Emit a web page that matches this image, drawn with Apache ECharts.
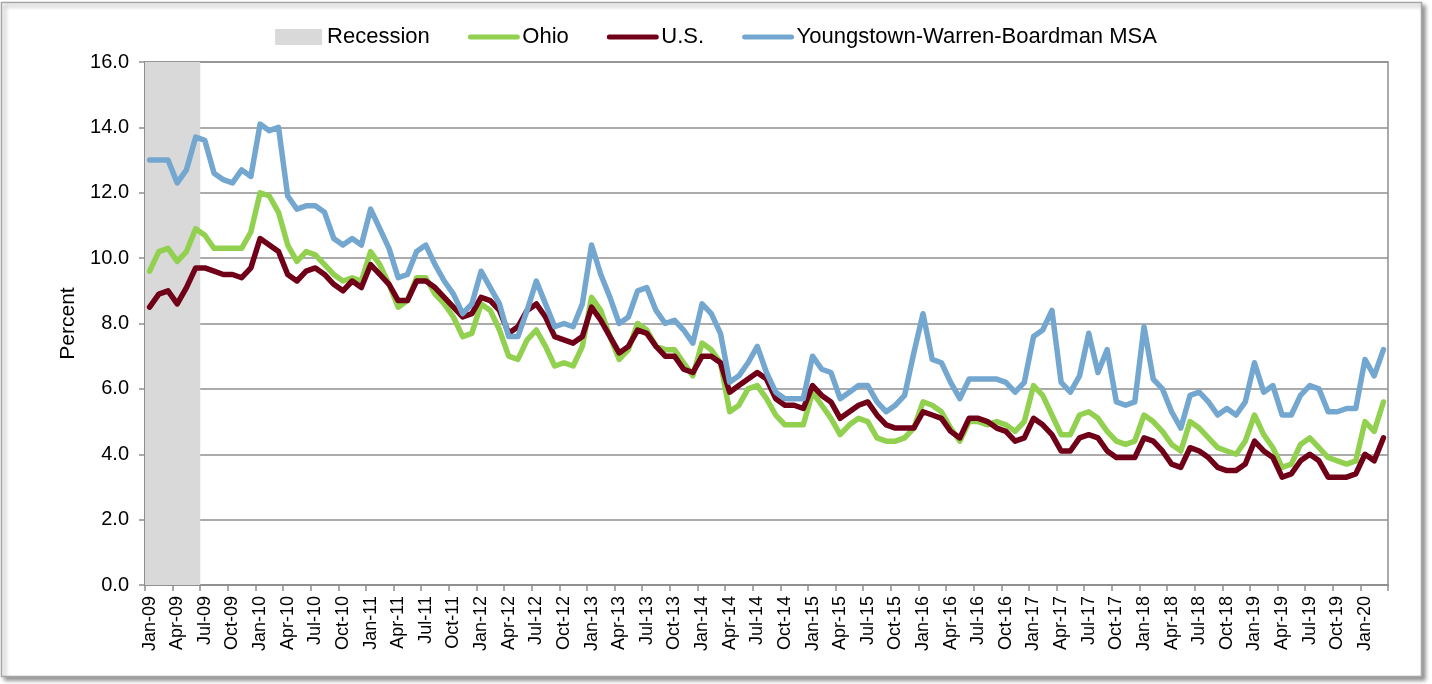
<!DOCTYPE html>
<html>
<head>
<meta charset="utf-8">
<title>Unemployment Rate: Youngstown-Warren-Boardman MSA, Ohio and U.S.</title>
<script src="https://cdn.jsdelivr.net/npm/echarts@6/dist/echarts.min.js"></script>
<style>
  html, body { margin: 0; padding: 0; background: #ffffff; }
  #chart { width: 1432px; height: 684px; }
</style>
</head>
<body>
<div id="chart"></div>
<script>
// Monthly unemployment rate (percent, not seasonally adjusted), Jan 2009 - Mar 2020
const MONTHS = ['Jan', 'Feb', 'Mar', 'Apr', 'May', 'Jun', 'Jul', 'Aug', 'Sep', 'Oct', 'Nov', 'Dec'];
const YEARS = ['09', '10', '11', '12', '13', '14', '15', '16', '17', '18', '19', '20'];
const LAST_MONTH_2020 = 3; // data runs through March 2020

// Recession shading (NBER: through June 2009), first and last shaded month
const RECESSION_SPAN = ['Jan-09', 'Jun-09'];

const OHIO = [
  9.6, 10.2, 10.3, 9.9, 10.2, 10.9, 10.7, 10.3, 10.3, 10.3, 10.3, 10.8,   // 2009
  12.0, 11.9, 11.4, 10.4, 9.9, 10.2, 10.1, 9.8, 9.5, 9.3, 9.4, 9.3,       // 2010
  10.2, 9.8, 9.2, 8.5, 8.7, 9.4, 9.4, 8.9, 8.6, 8.2, 7.6, 7.7,            // 2011
  8.6, 8.4, 7.8, 7.0, 6.9, 7.5, 7.8, 7.3, 6.7, 6.8, 6.7, 7.3,             // 2012
  8.8, 8.4, 7.6, 6.9, 7.2, 8.0, 7.8, 7.3, 7.2, 7.2, 6.8, 6.4,             // 2013
  7.4, 7.2, 6.8, 5.3, 5.5, 6.0, 6.1, 5.7, 5.2, 4.9, 4.9, 4.9,             // 2014
  5.9, 5.5, 5.1, 4.6, 4.9, 5.1, 5.0, 4.5, 4.4, 4.4, 4.5, 4.8,             // 2015
  5.6, 5.5, 5.3, 4.8, 4.4, 5.0, 5.0, 4.9, 5.0, 4.9, 4.7, 5.0,             // 2016
  6.1, 5.8, 5.2, 4.6, 4.6, 5.2, 5.3, 5.1, 4.7, 4.4, 4.3, 4.4,             // 2017
  5.2, 5.0, 4.7, 4.3, 4.1, 5.0, 4.8, 4.5, 4.2, 4.1, 4.0, 4.4,             // 2018
  5.2, 4.6, 4.2, 3.6, 3.7, 4.3, 4.5, 4.2, 3.9, 3.8, 3.7, 3.8,             // 2019
  5.0, 4.7, 5.6                                                           // 2020
];

const US = [
  8.5, 8.9, 9.0, 8.6, 9.1, 9.7, 9.7, 9.6, 9.5, 9.5, 9.4, 9.7,             // 2009
  10.6, 10.4, 10.2, 9.5, 9.3, 9.6, 9.7, 9.5, 9.2, 9.0, 9.3, 9.1,          // 2010
  9.8, 9.5, 9.2, 8.7, 8.7, 9.3, 9.3, 9.1, 8.8, 8.5, 8.2, 8.3,             // 2011
  8.8, 8.7, 8.4, 7.7, 7.9, 8.4, 8.6, 8.2, 7.6, 7.5, 7.4, 7.6,             // 2012
  8.5, 8.1, 7.6, 7.1, 7.3, 7.8, 7.7, 7.3, 7.0, 7.0, 6.6, 6.5,             // 2013
  7.0, 7.0, 6.8, 5.9, 6.1, 6.3, 6.5, 6.3, 5.7, 5.5, 5.5, 5.4,             // 2014
  6.1, 5.8, 5.6, 5.1, 5.3, 5.5, 5.6, 5.2, 4.9, 4.8, 4.8, 4.8,             // 2015
  5.3, 5.2, 5.1, 4.7, 4.5, 5.1, 5.1, 5.0, 4.8, 4.7, 4.4, 4.5,             // 2016
  5.1, 4.9, 4.6, 4.1, 4.1, 4.5, 4.6, 4.5, 4.1, 3.9, 3.9, 3.9,             // 2017
  4.5, 4.4, 4.1, 3.7, 3.6, 4.2, 4.1, 3.9, 3.6, 3.5, 3.5, 3.7,             // 2018
  4.4, 4.1, 3.9, 3.3, 3.4, 3.8, 4.0, 3.8, 3.3, 3.3, 3.3, 3.4,             // 2019
  4.0, 3.8, 4.5                                                           // 2020
];

const YOUNGSTOWN = [
  13.0, 13.0, 13.0, 12.3, 12.7, 13.7, 13.6, 12.6, 12.4, 12.3, 12.7, 12.5, // 2009
  14.1, 13.9, 14.0, 11.9, 11.5, 11.6, 11.6, 11.4, 10.6, 10.4, 10.6, 10.4, // 2010
  11.5, 10.9, 10.3, 9.4, 9.5, 10.2, 10.4, 9.8, 9.3, 8.9, 8.3, 8.6,        // 2011
  9.6, 9.1, 8.6, 7.6, 7.6, 8.4, 9.3, 8.6, 7.9, 8.0, 7.9, 8.6,             // 2012
  10.4, 9.5, 8.8, 8.0, 8.2, 9.0, 9.1, 8.4, 8.0, 8.1, 7.8, 7.4,            // 2013
  8.6, 8.3, 7.7, 6.2, 6.4, 6.8, 7.3, 6.5, 5.9, 5.7, 5.7, 5.7,             // 2014
  7.0, 6.6, 6.5, 5.7, 5.9, 6.1, 6.1, 5.6, 5.3, 5.5, 5.8, 7.1,             // 2015
  8.3, 6.9, 6.8, 6.2, 5.7, 6.3, 6.3, 6.3, 6.3, 6.2, 5.9, 6.2,             // 2016
  7.6, 7.8, 8.4, 6.2, 5.9, 6.4, 7.7, 6.5, 7.2, 5.6, 5.5, 5.6,             // 2017
  7.9, 6.3, 6.0, 5.3, 4.8, 5.8, 5.9, 5.6, 5.2, 5.4, 5.2, 5.6,             // 2018
  6.8, 5.9, 6.1, 5.2, 5.2, 5.8, 6.1, 6.0, 5.3, 5.3, 5.4, 5.4,             // 2019
  6.9, 6.4, 7.2                                                           // 2020
];

// Y axis range
const Y_MIN = 0;
const Y_MAX = 16;
const Y_STEP = 2;

// Category labels "Mon-YY"
const categories = [];
YEARS.forEach(function (yy, yi) {
  const count = yi === YEARS.length - 1 ? LAST_MONTH_2020 : 12;
  for (let m = 0; m < count; m++) categories.push(MONTHS[m] + '-' + yy);
});

const FONT = "'Liberation Sans', Arial, Helvetica, sans-serif";
const GRID_GRAY = '#8f8f8f';
const BAND_GRAY = '#d9d9d9';
const LINE_W = 5.5;

// Line legend entries: thick rounded stroke, no marker dot
function lineLegend(name) {
  return { name: name, itemStyle: { opacity: 0 }, lineStyle: { width: 5, cap: 'round' } };
}

// Shaded band spanning whole category slots, from the first to the last month
function renderBand(params, api) {
  const start = api.value(0);
  const end = api.value(1);
  const slot = api.size([1, 0])[0];
  const topLeft = api.coord([start, Y_MAX]);
  const bottomRight = api.coord([end, Y_MIN]);
  const x0 = topLeft[0] - slot / 2;
  const x1 = bottomRight[0] + slot / 2;
  return {
    type: 'rect',
    shape: { x: x0, y: topLeft[1], width: x1 - x0, height: bottomRight[1] - topLeft[1] },
    style: { fill: BAND_GRAY }
  };
}

const chart = echarts.init(document.getElementById('chart'), null, { renderer: 'canvas' });

chart.setOption({
  backgroundColor: '#ffffff',
  animation: false,
  textStyle: { fontFamily: FONT, color: '#000000' },
  graphic: [{
    type: 'rect',
    z: -10,
    silent: true,
    shape: { x: 1.5, y: 2.5, width: 1420, height: 674 },
    style: {
      fill: '#ffffff',
      stroke: '#a6a6a6',
      lineWidth: 1.5,
      shadowColor: 'rgba(0,0,0,0.4)',
      shadowBlur: 4,
      shadowOffsetX: 3,
      shadowOffsetY: 3
    }
  }],
  legend: {
    top: 26,
    left: 'center',
    padding: 0,
    itemWidth: 47,
    itemHeight: 16,
    itemGap: 38,
    textStyle: { fontFamily: FONT, fontSize: 22, color: '#000000', lineHeight: 22 },
    data: [
      { name: 'Recession', icon: 'rect', itemStyle: { color: BAND_GRAY } },
      lineLegend('Ohio'),
      lineLegend('U.S.'),
      lineLegend('Youngstown-Warren-Boardman MSA')
    ]
  },
  grid: {
    left: 145,
    right: 44,
    top: 62,
    bottom: 99,
    show: true,
    borderColor: GRID_GRAY,
    borderWidth: 1.5,
    backgroundColor: 'transparent'
  },
  xAxis: {
    type: 'category',
    data: categories,
    boundaryGap: true,
    axisLine: { show: true, lineStyle: { color: GRID_GRAY, width: 2 } },
    axisTick: { show: true, interval: 2, length: 6, lineStyle: { color: GRID_GRAY, width: 1.5 } },
    axisLabel: {
      interval: 2,
      rotate: 90,
      margin: 11,
      fontFamily: FONT,
      fontSize: 18,
      color: '#000000'
    },
    splitLine: { show: false }
  },
  yAxis: {
    type: 'value',
    min: Y_MIN,
    max: Y_MAX,
    interval: Y_STEP,
    name: 'Percent',
    nameLocation: 'middle',
    nameGap: 64,
    nameTextStyle: { fontFamily: FONT, fontSize: 21, color: '#000000' },
    axisLine: { show: true, lineStyle: { color: GRID_GRAY, width: 2 } },
    axisTick: { show: true, length: 6, lineStyle: { color: GRID_GRAY, width: 1.5 } },
    axisLabel: {
      margin: 16,
      fontFamily: FONT,
      fontSize: 20,
      color: '#000000',
      formatter: function (v) { return v.toFixed(1); }
    },
    splitLine: { show: true, lineStyle: { color: GRID_GRAY, width: 1.5 } }
  },
  series: [
    {
      name: 'Recession',
      type: 'custom',
      renderItem: renderBand,
      data: [[categories.indexOf(RECESSION_SPAN[0]), categories.indexOf(RECESSION_SPAN[1])]],
      encode: { x: [0, 1] },
      itemStyle: { color: BAND_GRAY },
      clip: true,
      silent: true,
      z: 1
    },
    {
      name: 'Ohio',
      type: 'line',
      data: OHIO,
      symbol: 'none',
      color: '#92d050',
      lineStyle: { color: '#92d050', width: LINE_W, cap: 'round', join: 'round' }
    },
    {
      name: 'U.S.',
      type: 'line',
      data: US,
      symbol: 'none',
      color: '#6f0018',
      lineStyle: { color: '#6f0018', width: LINE_W, cap: 'round', join: 'round' }
    },
    {
      name: 'Youngstown-Warren-Boardman MSA',
      type: 'line',
      data: YOUNGSTOWN,
      symbol: 'none',
      color: '#74a7cf',
      lineStyle: { color: '#74a7cf', width: LINE_W, cap: 'round', join: 'round' }
    }
  ]
});
</script>
</body>
</html>
